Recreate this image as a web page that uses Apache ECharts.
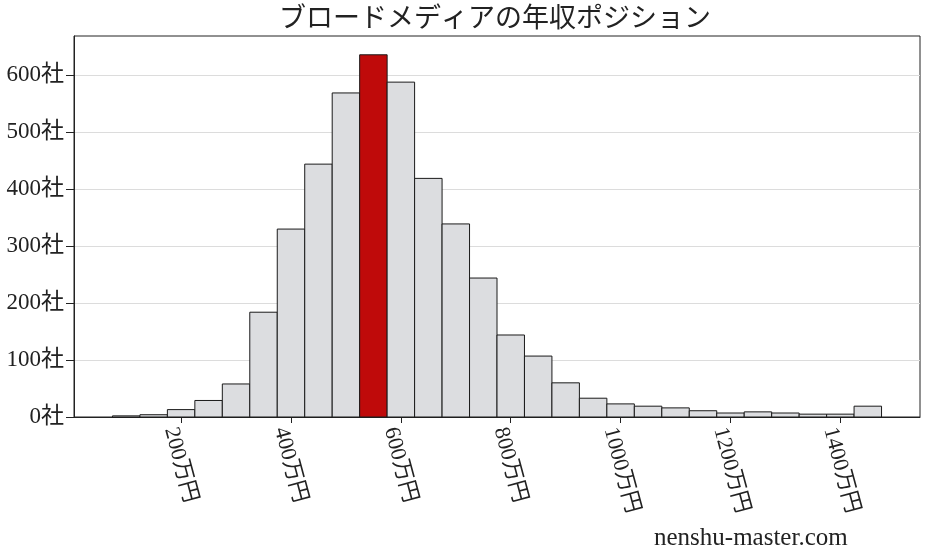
<!DOCTYPE html>
<html><head><meta charset="utf-8">
<script src="https://cdn.jsdelivr.net/npm/echarts@6/dist/echarts.min.js"></script>
<style>html,body{margin:0;padding:0;background:#fff}#c{width:927px;height:557px}</style>
</head><body><div id="c"></div>
<script>
const title = 'ブロードメディアの年収ポジション';
const binStarts = [75,125,175,225,275,325,375,425,475,525,575,625,675,725,775,825,875,925,975,1025,1075,1125,1175,1225,1275,1325,1375,1425];
const binWidth = 50;
const counts = [2,4,13,29,58,184,330,444,569,636,588,419,339,244,144,107,60,33,23,19,16,11,7,9,7,5,5,19];
const highlightIndex = 9;
const xTicks = [200,400,600,800,1000,1200,1400];
const yTicks = [0,100,200,300,400,500,600];
const font = "'Liberation Serif', 'Noto Sans CJK JP', serif";

const data = binStarts.map((s,i)=>[s, s+binWidth, counts[i], i]);
const chart = echarts.init(document.getElementById('c'));
chart.setOption({
  animation:false,
  backgroundColor:'#fff',
  title:{text:title,left:490,top:1,textAlign:'center',textStyle:{fontFamily:font,fontSize:27,fontWeight:'normal',color:'#222'}},
  grid:{left:74,right:7,top:36,bottom:140,show:true,borderColor:'#222',borderWidth:1,backgroundColor:'transparent'},
  xAxis:{type:'value',min:5,max:1545,
    axisLine:{show:true,lineStyle:{color:'#222'}},
    axisTick:{show:true,length:6,lineStyle:{color:'#222'},customValues:xTicks},
    axisLabel:{rotate:-75,margin:8,verticalAlign:'top',fontFamily:font,fontSize:22,color:'#222',customValues:xTicks,formatter:v=>v+'万円'},
    splitLine:{show:false}},
  yAxis:{type:'value',min:0,max:669,interval:100,
    axisLine:{show:true,lineStyle:{color:'#222'}},
    axisTick:{show:true,length:8,lineStyle:{color:'#222'},customValues:yTicks},
    axisLabel:{margin:10,fontFamily:font,fontSize:23,color:'#222',customValues:yTicks,formatter:v=>v+'社'},
    splitLine:{show:true,lineStyle:{color:'#dcdcdc',width:1}}},
  series:[{type:'custom',data:data,encode:{x:[0,1],y:2},
    renderItem:(params,api)=>{
      const p0=api.coord([api.value(0),api.value(2)]);
      const p1=api.coord([api.value(1),0]);
      const hi = api.value(3)===highlightIndex;
      return {type:'rect',shape:{x:p0[0],y:p0[1],width:p1[0]-p0[0],height:p1[1]-p0[1]},
        style:{fill:hi?'#bf0a0a':'#dcdde0',stroke:'#1a1a1a',lineWidth:1}};
    }}],
  graphic:[{type:'text',left:654,top:526,style:{text:'nenshu-master.com',fontFamily:font,fontSize:25,fill:'#222'}}]
});
</script></body></html>
